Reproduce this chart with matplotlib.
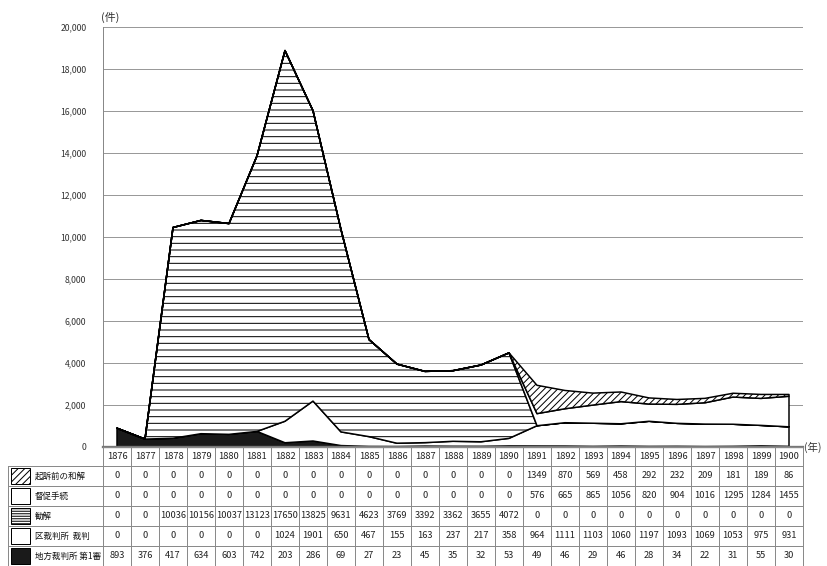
import numpy as np
import matplotlib.pyplot as plt
from matplotlib import transforms
from matplotlib.lines import Line2D
from matplotlib.patches import Rectangle
from matplotlib.ticker import FuncFormatter

plt.rcParams['font.family'] = ['Noto Sans CJK JP', 'DejaVu Sans']
plt.rcParams['hatch.linewidth'] = 0.6

years = list(range(1876, 1901))
wakai = [0] * 15 + [1349, 870, 569, 458, 292, 232, 209, 181, 189, 86]
tokusoku = [0] * 15 + [576, 665, 865, 1056, 820, 904, 1016, 1295, 1284, 1455]
kankai = [0, 0, 10036, 10156, 10037, 13123, 17650, 13825, 9631, 4623, 3769,
          3392, 3362, 3655, 4072] + [0] * 10
ku = [0, 0, 0, 0, 0, 0, 1024, 1901, 650, 467, 155, 163, 237, 217, 358,
      964, 1111, 1103, 1060, 1197, 1093, 1069, 1053, 975, 931]
chiho = [893, 376, 417, 634, 603, 742, 203, 286, 69, 27, 23, 45, 35, 32, 53,
         49, 46, 29, 46, 28, 34, 22, 31, 55, 30]

# table rows, top to bottom (stack order is the reverse)
labels = ['起訴前の和解', '督促手続', '勧解', '区裁判所  裁判', '地方裁判所 第1審']
rows = [wakai, tokusoku, kankai, ku, chiho]
styles = [('white', '//////'), ('white', ''), ('white', '---'), ('white', ''), ('#1a1a1a', '')]
swatch_hatch = ['//////', '', '--------', '', '']

W, H = 827, 566
DPI = 120
fig = plt.figure(figsize=(W / DPI, H / DPI), dpi=DPI)
ax = fig.add_axes([103 / W, 1 - 447 / H, (803 - 103) / W, (447 - 27) / H])

x = np.arange(len(years))
base = np.zeros(len(years))
for vals, (fc, hatch) in zip(rows[::-1], styles[::-1]):
    top = base + np.array(vals)
    ax.fill_between(x, base, top, facecolor=fc, hatch=hatch,
                    edgecolor='black', linewidth=0.9, zorder=3)
    base = top

ax.set_xlim(-0.5, len(years) - 0.5)
ax.set_ylim(0, 20000)
ax.set_yticks(range(0, 20001, 2000))
ax.yaxis.set_major_formatter(FuncFormatter(lambda v, p: f'{int(v):,}'))
ax.set_xticks([])
ax.tick_params(axis='y', length=0, labelsize=5.2, colors='#333333', pad=10)
ax.grid(axis='y', color='#999999', linewidth=0.6, zorder=0)
for s in ['top', 'right']:
    ax.spines[s].set_visible(False)
ax.spines['left'].set_color('#888888')
ax.spines['left'].set_linewidth(0.6)
ax.spines['bottom'].set_color('#777777')
ax.spines['bottom'].set_linewidth(1.4)
ax.spines['bottom'].set_zorder(4)

fig.text(110 / W, 1 - 17 / H, '(件)', fontsize=6.5, ha='center', va='center', color='#333333')
fig.text(813 / W, 1 - 447 / H, '(年)', fontsize=6.3, ha='center', va='center', color='#333333')

# table under the chart
tr = transforms.blended_transform_factory(ax.transData, fig.transFigure)
row_edges = [447, 466, 486, 506, 526, 546, 566]
fy = lambda py: 1 - py / H
gcol = '#8a8a8a'
num_font = ['Liberation Sans Narrow', 'Noto Sans CJK JP', 'DejaVu Sans']

for i, yr in enumerate(years):
    ax.text(i, fy((row_edges[0] + row_edges[1]) / 2), str(yr), transform=tr,
            ha='center', va='center', fontsize=5.6, color='#222222', family=num_font)
    for r, vals in enumerate(rows):
        yc = (row_edges[r + 1] + row_edges[r + 2]) / 2
        ax.text(i, fy(yc), str(vals[i]), transform=tr, ha='center', va='center',
                fontsize=5.6, color='#222222', family=num_font)

for k in range(len(years) + 1):
    fig.add_artist(Line2D([k - 0.5, k - 0.5], [fy(row_edges[0]), fy(row_edges[-1])],
                          transform=tr, color=gcol, linewidth=0.6))
for j, py in enumerate(row_edges):
    x0 = 8 / W if j >= 1 else 103 / W
    fig.add_artist(Line2D([x0, 803 / W], [fy(py), fy(py)], color=gcol, linewidth=0.6))
fig.add_artist(Line2D([8 / W, 8 / W], [fy(row_edges[1]), fy(row_edges[-1])], color=gcol, linewidth=0.6))

for r, (lab, (fc, _)) in enumerate(zip(labels, styles)):
    y0, y1 = row_edges[r + 1], row_edges[r + 2]
    fig.add_artist(Rectangle((11 / W, fy(y1 - 2)), 19 / W, (y1 - y0 - 4) / H,
                             facecolor=fc, hatch=swatch_hatch[r], edgecolor='black', linewidth=0.6))
    fig.text(35 / W, fy((y0 + y1) / 2), lab, fontsize=5.1, ha='left', va='center', color='#111111')

fig.savefig('out.png', dpi=DPI)
